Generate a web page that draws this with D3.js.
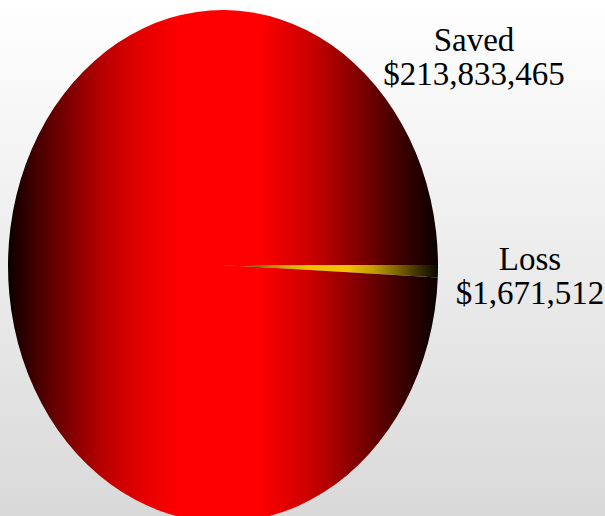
<!DOCTYPE html>
<html lang="en">
<head>
    <meta charset="UTF-8">
    <script src="https://d3js.org/d3.v7.min.js"></script>
    <title>Saved vs Loss</title>
    <style>
        body { margin: 0; overflow: hidden; }
        svg { display: block; }
    </style>
</head>
<body>
    <script>
        // data
        const labels = ["Loss", "Saved"];
        const amounts = [1671512, 213833465];
        const sliceColors = ["#f2c200", "#ff0000"];

        // layout
        const w = 605;
        const h = 516;
        const cx = 223, cy = 265;   // ellipse centre
        const rx = 215, ry = 256;   // ellipse radii
        const fontSize = 33;
        const lineGap = 34;
        // label anchors (centre of the two text lines)
        const labelPos = [[530, 276], [474, 57]];
        // shading profile across each slice: [offset, strength of colour]
        const shade = [[0, 0.04], [0.06, 0.25], [0.15, 0.52], [0.22, 0.72],
                       [0.3, 0.88], [0.4, 1], [0.58, 1], [0.7, 0.8],
                       [0.78, 0.6], [0.86, 0.38], [0.93, 0.2], [1, 0.04]];

        const fmt = d3.format("$,");

        const svg = d3.select("body").append("svg")
            .attr("width", w)
            .attr("height", h);

        const defs = svg.append("defs");

        // background
        const bg = defs.append("linearGradient")
            .attr("id", "bg")
            .attr("x1", 0).attr("y1", 0).attr("x2", 0).attr("y2", 1);
        bg.append("stop").attr("offset", 0).attr("stop-color", "#ffffff");
        bg.append("stop").attr("offset", 1).attr("stop-color", "#d9d9d9");

        svg.append("rect")
            .attr("width", w)
            .attr("height", h)
            .attr("fill", "url(#bg)");

        // one horizontal gradient per slice: dark - colour - dark
        sliceColors.forEach((c, i) => {
            const mix = d3.interpolateRgb("#000", c);
            defs.append("linearGradient")
                .attr("id", "slice" + i)
                .attr("x1", 0).attr("y1", 0).attr("x2", 1).attr("y2", 0)
                .selectAll("stop")
                .data(shade)
                .enter()
                .append("stop")
                .attr("offset", d => d[0])
                .attr("stop-color", d => mix(d[1]));
        });

        const pie = d3.pie()
            .sort(null)
            .startAngle(Math.PI / 2)
            .endAngle(Math.PI / 2 + 2 * Math.PI);

        const arcs = pie(amounts);

        const arc = d3.arc()
            .innerRadius(0)
            .outerRadius(1);

        // draw the unit pie and stretch it into an ellipse
        const pieG = svg.append("g")
            .attr("transform", `translate(${cx},${cy}) scale(${rx},${ry})`);

        pieG.selectAll("path")
            .data(arcs)
            .enter()
            .append("path")
            .attr("d", arc)
            .attr("fill", (d, i) => `url(#slice${i})`);

        // labels
        const lbl = svg.selectAll("text.label")
            .data(arcs)
            .enter()
            .append("text")
            .attr("class", "label")
            .attr("text-anchor", "middle")
            .attr("font-family", "'Liberation Serif', 'Times New Roman', serif")
            .attr("font-size", fontSize)
            .attr("fill", "#000");

        lbl.append("tspan")
            .attr("x", (d, i) => labelPos[i][0])
            .attr("y", (d, i) => labelPos[i][1] - lineGap / 2 + fontSize * 0.33)
            .text((d, i) => labels[i]);

        lbl.append("tspan")
            .attr("x", (d, i) => labelPos[i][0])
            .attr("y", (d, i) => labelPos[i][1] + lineGap / 2 + fontSize * 0.33)
            .text(d => fmt(d.data));
    </script>
</body>
</html>
